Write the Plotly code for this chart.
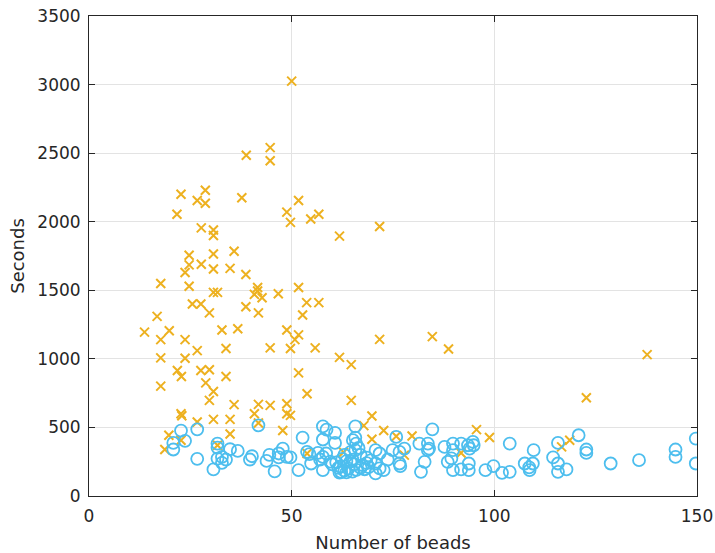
import plotly.graph_objects as go

# Orange "x" series (beads, seconds)
x_beads = [50, 44.7, 44.7, 38.8, 22.7, 28.7, 26.7, 28.7, 37.7, 21.7, 51.7, 48.8, 49.7, 54.7, 56.7,
           27.7, 30.7, 30.7, 61.8, 71.7, 24.7, 30.7, 35.8, 27.7, 24.7, 30.7, 34.8, 23.7, 38.7,
           17.7, 24.7, 30.7, 31.7, 41.6, 41.6, 40.8, 42.7, 46.7, 51.7, 25.5, 27.6, 29.7, 38.7,
           41.8, 53.7, 56.7, 52.7, 16.8, 13.7, 19.8, 17.7, 23.7, 32.8, 36.7, 48.8, 51.7, 50.8,
           26.7, 33.8, 44.7, 49.7, 55.8, 71.7, 61.8, 64.7, 84.7, 88.7, 137.7, 17.7, 23.7, 21.8,
           22.8, 27.6, 29.7, 33.8, 51.7, 17.7, 28.8, 30.7, 29.7, 53.8, 64.7, 35.8, 41.8, 44.7,
           48.8, 22.7, 22.9, 40.8, 48.8, 49.7, 30.7, 34.8, 26.7, 41.8, 47.8, 34.8, 19.7, 22.7,
           18.7, 69.8, 67.8, 72.7, 69.8, 62.8, 53.8, 31.7, 75.8, 79.7, 95.6, 77.8, 91.8, 122.7,
           98.8, 118.6, 116.6]
y_seconds = [3025, 2540, 2445, 2485, 2200, 2230, 2155, 2135, 2175, 2055, 2155, 2070, 1995, 2020, 2055,
             1955, 1940, 1900, 1895, 1965, 1755, 1765, 1785, 1690, 1685, 1655, 1660, 1630, 1615,
             1550, 1530, 1485, 1485, 1520, 1495, 1470, 1445, 1475, 1520, 1400, 1400, 1335, 1380,
             1335, 1410, 1410, 1320, 1310, 1195, 1205, 1140, 1140, 1210, 1220, 1210, 1175, 1140,
             1060, 1075, 1080, 1075, 1080, 1142, 1011, 958, 1162, 1072, 1031, 1007, 1004, 915,
             871, 915, 920, 871, 898, 801, 825, 762, 697, 745, 697, 666, 668, 661,
             673, 600, 585, 600, 600, 588, 559, 559, 540, 532, 477, 452, 443, 407,
             339, 583, 513, 477, 414, 319, 310, 370, 436, 438, 484, 298, 314, 716,
             426, 407, 358]

# Blue "o" series (beads, seconds)
o_beads = [20.8, 20.8, 22.7, 23.7, 26.7, 26.7, 30.7, 31.7, 31.7, 31.7, 32.8, 33.8, 32.8, 34.8,
           36.7, 39.7, 40.2, 41.8, 43.8, 45.8, 46.8, 47.8, 48.8, 49.7, 46.8, 51.7, 52.7, 53.8,
           54.4, 54.8, 57.7, 58.6, 57.7, 60.7, 60.7, 56.5, 57.7, 58.5, 57.0, 57.7, 59.5, 60,
           61, 61.5, 62, 62.5, 63.5, 64.5, 65, 65.5, 64, 63, 62.2, 61.8, 63.5, 65, 66,
           65.7, 65.7, 65.7, 65.9, 65.1, 70.7, 71.7, 70.7, 71.7, 72.7, 70.7, 73.7, 74.9,
           75.8, 76.6, 67.5, 68.5, 69, 68, 67, 77.8, 76.6, 81.5, 83.6, 83.6, 84.7, 82.8,
           81.9, 76.8, 83.9, 87.7, 89.8, 91.8, 89.8, 93.5, 94.7, 94.9, 93.9, 88.5, 89.4,
           89.8, 91.8, 93.7, 93.7, 97.8, 99.8, 101.9, 103.8, 103.8, 107.5, 108.6, 109.5,
           108.7, 109.7, 114.5, 115.7, 115.7, 117.8, 115.7, 120.8, 122.7, 122.7, 128.7,
           135.7, 144.7, 144.7, 149.7, 149.7, 63, 64.5, 67, 68.5, 69.5, 66.5, 44.5]
o_seconds = [387, 339, 477, 402, 486, 271, 194, 382, 353, 273, 285, 266, 242, 341,
             329, 266, 290, 515, 256, 179, 310, 346, 285, 281, 281, 189, 426, 322,
             305, 237, 508, 484, 412, 460, 387, 314, 285, 310, 266, 189, 250, 230,
             245, 205, 215, 270, 255, 250, 265, 230, 200, 185, 175, 170, 172, 178, 190,
             508, 426, 334, 382, 407, 334, 310, 237, 201, 189, 165, 266, 334,
             431, 237, 225, 240, 210, 195, 205, 346, 322, 382, 382, 334, 486, 249,
             176, 218, 346, 358, 382, 382, 334, 370, 394, 370, 346, 249, 274,
             189, 194, 237, 189, 189, 218, 169, 176, 382, 237, 208, 237,
             189, 334, 281, 237, 176, 194, 387, 443, 339, 314, 237,
             261, 339, 285, 419, 237, 300, 320, 300, 280, 260, 350, 300]

x_ticks = [0, 50, 100, 150]
y_ticks = [0, 500, 1000, 1500, 2000, 2500, 3000, 3500]

ORANGE = "#EDB120"
BLUE = "#4DBEEE"
AXIS = "#262626"
FONT = "DejaVu Sans"

fig = go.Figure()
fig.add_trace(go.Scatter(
    x=x_beads, y=y_seconds, mode="markers",
    marker=dict(symbol="x-thin-open", size=9, color=ORANGE,
                line=dict(color=ORANGE, width=2)),
    showlegend=False, cliponaxis=True))
fig.add_trace(go.Scatter(
    x=o_beads, y=o_seconds, mode="markers",
    marker=dict(symbol="circle-open", size=12, color=BLUE,
                line=dict(color=BLUE, width=1.8)),
    showlegend=False, cliponaxis=True))

axis_common = dict(
    showline=True, linecolor=AXIS, linewidth=1, mirror="ticks",
    ticks="inside", ticklen=6, tickcolor=AXIS, tickwidth=1,
    showgrid=True, gridcolor="#E3E3E3", gridwidth=1,
    zeroline=False, ticklabeloverflow="allow",
    tickfont=dict(family=FONT, size=17, color=AXIS),
)

fig.update_xaxes(
    range=[0, 150], tickmode="array", tickvals=x_ticks,
    ticktext=[str(v) for v in x_ticks], ticklabelstandoff=5,
    title=dict(text="Number of beads", font=dict(family=FONT, size=18, color=AXIS), standoff=14),
    **axis_common)
fig.update_yaxes(
    range=[0, 3500], tickmode="array", tickvals=y_ticks,
    ticktext=[str(v) for v in y_ticks], ticklabelstandoff=4,
    title=dict(text="Seconds", font=dict(family=FONT, size=18, color=AXIS), standoff=8),
    **axis_common)

fig.update_layout(
    width=715, height=553,
    margin=dict(l=89, r=18, t=16, b=57, autoexpand=False),
    paper_bgcolor="white", plot_bgcolor="white",
    font=dict(family=FONT, color=AXIS),
)

# remove the default page margin so the figure fills the window exactly
fig.write_html("out.html",
               config={"displayModeBar": False},
               post_script="document.body.style.margin='0';document.body.style.overflow='hidden';")
